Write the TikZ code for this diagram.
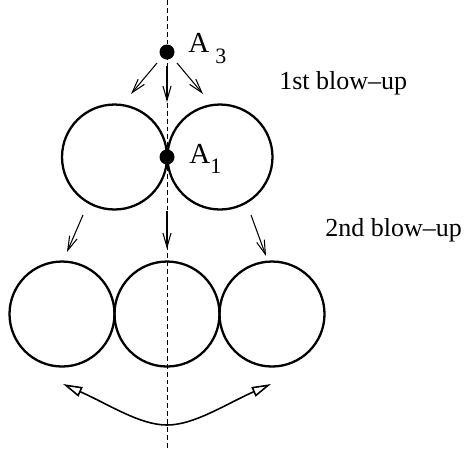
\documentclass[tikz,border=0pt]{standalone}
\usepackage{fontspec}
\setmainfont{Liberation Serif}
\usetikzlibrary{arrows.meta}
\begin{document}
\begin{tikzpicture}[x=0.02cm,y=-0.02cm,
  ring/.style={draw, circle, line width=1.3pt, minimum size=2.1cm, inner sep=0pt},
  dot/.style={fill, circle, minimum size=0.3cm, inner sep=0pt},
  axis/.style={line width=0.5pt, dash pattern=on 2.8pt off 1.7pt},
  thinarrow/.style={line width=0.6pt, -{Straight Barb[length=8pt,width=4.6pt]}},
  bigarrow/.style={line width=0.9pt, {Triangle[open,length=11pt,width=5.8pt]}-{Triangle[open,length=11pt,width=5.8pt]}},
  lab/.style={inner sep=0pt, anchor=base west, font=\fontsize{14.8pt}{17pt}\selectfont},
  bigA/.style={inner sep=0pt, anchor=base west, font=\fontsize{16.5pt}{19pt}\selectfont},
  subs/.style={inner sep=0pt, anchor=base west, font=\fontsize{12.5pt}{15pt}\selectfont}]
\useasboundingbox (0,0) rectangle (465,458);
% axis
\coordinate (axtop) at (167,0);
\coordinate (axbot) at (167,450);
\draw[axis] (axtop) -- (axbot);
% circles
\node[ring] (c1) at (114.5,157) {};
\node[ring] (c2) at (220,157) {};
\node[ring] (d1) at (62,314) {};
\node[ring] (d2) at (167,314) {};
\node[ring] (d3) at (272,314) {};
% dots and labels
\node[dot] (a3) at (167,52) {};
\node[dot] (a1) at (167,157) {};
\node[bigA] (a3A) at (188,52) {A};
\node[subs] (a3s) at (215,63) {3};
\node[bigA] (a1A) at (189,163) {A};
\node[subs] (a1s) at (210,173) {1};
\node[lab] (t1) at (279,89) {1st blow–up};
\node[lab] (t2) at (325,236) {2nd blow–up};
% first arrows
\coordinate (s1) at (157,63);  \coordinate (e1) at (131,94);
\coordinate (s2) at (167,66);  \coordinate (e2) at (167,102);
\coordinate (s3) at (177,63);  \coordinate (e3) at (203,94);
\draw[thinarrow] (s1) -- (e1);
\draw[thinarrow] (s2) -- (e2);
\draw[thinarrow] (s3) -- (e3);
% second arrows
\coordinate (u1) at (83,215);  \coordinate (v1) at (67,252);
\coordinate (u2) at (167,211); \coordinate (v2) at (167,249);
\coordinate (u3) at (251,215); \coordinate (v3) at (266,256);
\draw[thinarrow] (u1) -- (v1);
\draw[thinarrow] (u2) -- (v2);
\draw[thinarrow] (u3) -- (v3);
% bottom double arrow
\coordinate (bl) at (63,384);
\coordinate (bc) at (167,425);
\coordinate (br) at (271,384);
\draw[bigarrow] (bl) .. controls (110,405) and (140,425) .. (bc)
  .. controls (194,425) and (224,405) .. (br);
\end{tikzpicture}
\end{document}
